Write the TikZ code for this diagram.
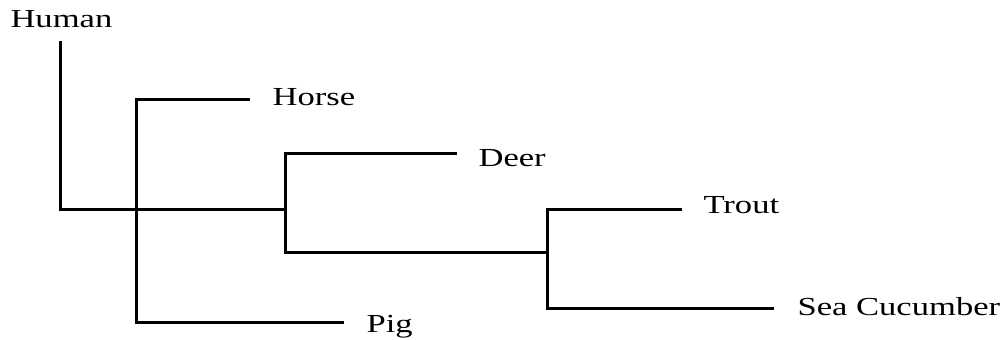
\documentclass[tikz,border=0pt]{standalone}
\usepackage{fontspec}
\setmainfont{Liberation Serif}
\begin{document}
\begin{tikzpicture}[x=0.5pt,y=-0.5pt,
  branch/.style={line width=1.5pt,line cap=rect},
  taxon/.style={anchor=base west,inner sep=0pt,xscale=1.33,
    font=\fontsize{13}{15}\selectfont}]
\useasboundingbox (0,0) rectangle (1003,339);
% taxon labels
\node[taxon] (human) at (10,27) {Human};
\node[taxon] (horse) at (272,105) {Horse};
\node[taxon] (deer)  at (478,166) {Deer};
\node[taxon] (trout) at (703,213) {Trout};
\node[taxon] (sea)   at (797,315) {Sea Cucumber};
\node[taxon] (pig)   at (366,332) {Pig};
% branch ends and joints
\coordinate (hTop) at (60,42);
\coordinate (hEnd) at (60,209);
\coordinate (jA) at (285,209);
\coordinate (jAtop) at (285,153);
\coordinate (jAbot) at (285,252);
\coordinate (deerEnd) at (455,153);
\coordinate (jB) at (547,252);
\coordinate (jBtop) at (547,209);
\coordinate (jBbot) at (547,308);
\coordinate (troutEnd) at (680,209);
\coordinate (seaEnd) at (772,308);
\coordinate (hpTop) at (136,99);
\coordinate (hpBot) at (136,322);
\coordinate (horseEnd) at (248,99);
\coordinate (pigEnd) at (342,322);
% tree
\draw[branch] (hTop) -- (hEnd) -- (jA);
\draw[branch] (deerEnd) -- (jAtop) -- (jAbot) -- (jB);
\draw[branch] (troutEnd) -- (jBtop) -- (jBbot) -- (seaEnd);
\draw[branch] (horseEnd) -- (hpTop) -- (hpBot) -- (pigEnd);
\end{tikzpicture}
\end{document}
